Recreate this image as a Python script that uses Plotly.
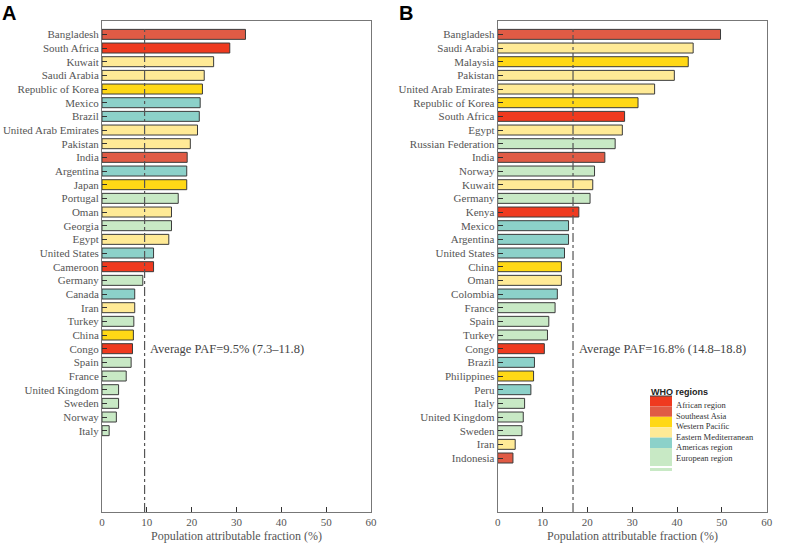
import plotly.graph_objects as go

# ---------------- data ----------------
countries_a = ["Bangladesh", "South Africa", "Kuwait", "Saudi Arabia", "Republic of Korea",
               "Mexico", "Brazil", "United Arab Emirates", "Pakistan", "India", "Argentina",
               "Japan", "Portugal", "Oman", "Georgia", "Egypt", "United States", "Cameroon",
               "Germany", "Canada", "Iran", "Turkey", "China", "Congo", "Spain", "France",
               "United Kingdom", "Sweden", "Norway", "Italy"]
paf_a = [32.0, 28.5, 24.9, 22.8, 22.4, 21.9, 21.7, 21.3, 19.7, 19.0, 18.9, 18.9, 17.0, 15.5,
         15.5, 14.9, 11.5, 11.5, 9.1, 7.3, 7.3, 7.1, 7.0, 6.8, 6.5, 5.4, 3.7, 3.7, 3.2, 1.6]
region_a = ["SEA", "AFR", "EMR", "EMR", "WPR", "AMR", "AMR", "EMR", "EMR", "SEA", "AMR",
            "WPR", "EUR", "EMR", "EUR", "EMR", "AMR", "AFR", "EUR", "AMR", "EMR", "EUR",
            "WPR", "AFR", "EUR", "EUR", "EUR", "EUR", "EUR", "EUR"]

countries_b = ["Bangladesh", "Saudi Arabia", "Malaysia", "Pakistan", "United Arab Emirates",
               "Republic of Korea", "South Africa", "Egypt", "Russian Federation", "India",
               "Norway", "Kuwait", "Germany", "Kenya", "Mexico", "Argentina", "United States",
               "China", "Oman", "Colombia", "France", "Spain", "Turkey", "Congo", "Brazil",
               "Philippines", "Peru", "Italy", "United Kingdom", "Sweden", "Iran", "Indonesia"]
paf_b = [49.7, 43.6, 42.5, 39.4, 35.0, 31.3, 28.3, 27.8, 26.2, 23.9, 21.6, 21.2, 20.6, 18.1,
         15.8, 15.8, 14.9, 14.2, 14.2, 13.3, 12.8, 11.4, 11.1, 10.4, 8.2, 8.0, 7.4, 6.0, 5.7,
         5.4, 3.9, 3.4]
region_b = ["SEA", "EMR", "WPR", "EMR", "EMR", "WPR", "AFR", "EMR", "EUR", "SEA", "EUR",
            "EMR", "EUR", "AFR", "AMR", "AMR", "AMR", "WPR", "EMR", "AMR", "EUR", "EUR",
            "EUR", "AFR", "AMR", "WPR", "AMR", "EUR", "EUR", "EUR", "EMR", "SEA"]

avg_a, avg_a_text = 9.5, "Average PAF=9.5% (7.3\u201311.8)"
avg_b, avg_b_text = 16.8, "Average PAF=16.8% (14.8\u201318.8)"

region_keys = ["AFR", "SEA", "WPR", "EMR", "AMR", "EUR"]
region_labels = ["African region", "Southeast Asia", "Western Pacific",
                 "Eastern Mediterranean", "Americas region", "European region"]
region_colors = {"AFR": "#EF3A1F", "SEA": "#E05B45", "WPR": "#FFD816",
                 "EMR": "#FFEA96", "AMR": "#8CD1C9", "EUR": "#C8E9C5"}

x_ticks = [0, 10, 20, 30, 40, 50, 60]

# ---------------- layout helpers ----------------
W, H = 800, 544
def px(x):
    return x / W
def py(y):
    return 1 - y / H

SERIF = "Liberation Serif, Times New Roman, serif"
SANS = "Liberation Sans, Arial, sans-serif"
TXT = "#555555"

fig = go.Figure()

fig.add_trace(go.Bar(
    x=paf_a, y=countries_a, orientation="h",
    marker=dict(color=[region_colors[r] for r in region_a],
                line=dict(color="#3a3a3a", width=1)),
    xaxis="x", yaxis="y", showlegend=False))
fig.add_trace(go.Bar(
    x=paf_b, y=countries_b, orientation="h",
    marker=dict(color=[region_colors[r] for r in region_b],
                line=dict(color="#3a3a3a", width=1)),
    xaxis="x2", yaxis="y2", showlegend=False))

ydom = [py(512), py(20.7)]
common_x = dict(range=[0, 60], tickvals=x_ticks, ticks="inside", ticklen=5,
                tickcolor="#333", showgrid=False, zeroline=False, automargin=False,
                showline=True, linecolor="#777", linewidth=1, mirror=True,
                tickfont=dict(family=SERIF, size=11, color=TXT))
common_y = dict(type="category", range=[34.95, -1], ticks="inside", ticklen=5,
                tickcolor="#333", showgrid=False, zeroline=False, automargin=False,
                showline=True, linecolor="#777", linewidth=1, mirror=True,
                tickfont=dict(family=SERIF, size=11, color=TXT))

fig.update_layout(
    template="none",
    width=W, height=H, margin=dict(l=0, r=0, t=0, b=0, pad=0),
    paper_bgcolor="white", plot_bgcolor="white", bargap=0.27,
    xaxis=dict(domain=[px(102), px(371)], anchor="y", **common_x),
    yaxis=dict(domain=ydom, anchor="x", **common_y),
    xaxis2=dict(domain=[px(497.7), px(766.7)], anchor="y2", **common_x),
    yaxis2=dict(domain=ydom, anchor="x2", **common_y),
)

# average lines
for xa, ya, avg in (("x", "y", avg_a), ("x2", "y2", avg_b)):
    fig.add_shape(type="line", xref=xa, yref=f"{ya} domain", x0=avg, x1=avg, y0=0, y1=0.985,
                  line=dict(color="#555", width=1.2, dash="dashdot"))

annotations = []
annotations.append(dict(x=avg_a + 0.8, y="Congo", xref="x", yref="y", text=avg_a_text,
                        showarrow=False, xanchor="left", yanchor="middle",
                        font=dict(family=SERIF, size=12.5, color="#444")))
annotations.append(dict(x=avg_b + 0.8, y="Congo", xref="x2", yref="y2", text=avg_b_text,
                        showarrow=False, xanchor="left", yanchor="middle",
                        font=dict(family=SERIF, size=12.5, color="#444")))

# axis titles
for cx in ((102 + 371) / 2, (497.7 + 766.7) / 2):
    annotations.append(dict(x=px(cx), y=py(536), xref="paper", yref="paper",
                            text="Population attributable fraction (%)", showarrow=False,
                            xanchor="center", yanchor="middle",
                            font=dict(family=SERIF, size=12, color=TXT)))

# panel letters
annotations.append(dict(x=px(0), y=py(13), xref="paper", yref="paper", text="<b>A</b>",
                        showarrow=False, xanchor="left", yanchor="middle",
                        font=dict(family=SANS, size=20, color="black")))
annotations.append(dict(x=px(397), y=py(13), xref="paper", yref="paper", text="<b>B</b>",
                        showarrow=False, xanchor="left", yanchor="middle",
                        font=dict(family=SANS, size=20, color="black")))

# WHO region legend
annotations.append(dict(x=px(649), y=py(391.5), xref="paper", yref="paper",
                        text="<b>WHO regions</b>", showarrow=False, xanchor="left",
                        yanchor="middle", font=dict(family=SANS, size=9, color="#222")))
block_top, block_h = 396.0, 10.4
label_y0, label_dy = 405.0, 10.5
for i, (key, lab) in enumerate(zip(region_keys, region_labels)):
    y0 = block_top + block_h * i
    y1 = y0 + block_h if key != "EUR" else 466
    fig.add_shape(type="rect", xref="paper", yref="paper", x0=px(650), x1=px(672),
                  y0=py(y1), y1=py(y0), line=dict(width=0), fillcolor=region_colors[key])
    annotations.append(dict(x=px(674), y=py(label_y0 + label_dy * i), xref="paper",
                            yref="paper", text=lab, showarrow=False, xanchor="left",
                            yanchor="middle",
                            font=dict(family=SERIF, size=8.5, color="#333")))
fig.add_shape(type="rect", xref="paper", yref="paper", x0=px(650), x1=px(672),
              y0=py(471), y1=py(468), line=dict(width=0), fillcolor=region_colors["EUR"])
fig.add_shape(type="line", xref="paper", yref="paper", x0=px(650), x1=px(672),
              y0=py(396), y1=py(396), line=dict(color="#444", width=1))

fig.update_layout(annotations=annotations)
fig.write_html("out.html", config={"displayModeBar": False},
               post_script="document.body.style.margin='0';document.body.style.overflow='hidden';")
